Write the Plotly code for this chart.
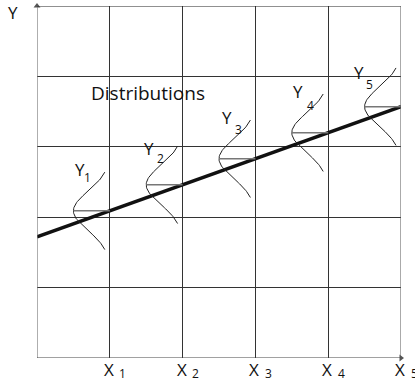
import numpy as np
import plotly.graph_objects as go

# ---- data ----
x_positions = [1, 2, 3, 4, 5]
x_labels = ["X", "X", "X", "X", "X"]
x_subs = ["1", "2", "3", "4", "5"]
dist_means = [2.09, 2.46, 2.83, 3.20, 3.57]
dist_labels = ["Y", "Y", "Y", "Y", "Y"]
dist_subs = ["1", "2", "3", "4", "5"]
reg_x = [0, 5]
reg_y = [1.72, 3.57]
dist_sigma = 0.276
dist_height = 0.5
dist_halfspan = 0.55
title_text = "Distributions"
y_axis_label = "Y"

# label positions (data coords)
ylab_pos = [(0.59, 2.68), (1.54, 2.97), (2.61, 3.42), (3.59, 3.79), (4.42, 4.05)]
ysub_pos = [(0.69, 2.56), (1.70, 2.83), (2.77, 3.25), (3.75, 3.59), (4.57, 3.88)]

FONT = "Open Sans"
fig = go.Figure()

# regression line
fig.add_trace(go.Scatter(x=reg_x, y=reg_y, mode="lines",
                         line=dict(color="#111", width=3.5), hoverinfo="skip"))

for xi, mu in zip(x_positions, dist_means):
    yy = np.linspace(mu - dist_halfspan, mu + dist_halfspan, 80)
    xx = xi - dist_height * np.exp(-((yy - mu) ** 2) / (2 * dist_sigma ** 2))
    fig.add_trace(go.Scatter(x=xx, y=yy, mode="lines",
                             line=dict(color="#222", width=1), hoverinfo="skip"))
    fig.add_trace(go.Scatter(x=[xi - dist_height, xi], y=[mu, mu], mode="lines",
                             line=dict(color="#777", width=1.5), hoverinfo="skip"))

# arrowheads
fig.add_trace(go.Scatter(x=[0], y=[5], mode="markers",
                         marker=dict(symbol="triangle-up", size=6, color="#555"),
                         hoverinfo="skip", cliponaxis=False))
fig.add_trace(go.Scatter(x=[5], y=[0], mode="markers",
                         marker=dict(symbol="triangle-right", size=6, color="#555"),
                         hoverinfo="skip", cliponaxis=False))

annotations = []
for (px, py), t in zip(ylab_pos, dist_labels):
    annotations.append(dict(x=px, y=py, text=t, showarrow=False,
                            font=dict(family=FONT, size=17, color="#111")))
for (px, py), t in zip(ysub_pos, dist_subs):
    annotations.append(dict(x=px, y=py, text=t, showarrow=False,
                            font=dict(family=FONT, size=12, color="#111")))
for xi, t, s in zip(x_positions, x_labels, x_subs):
    annotations.append(dict(x=xi, y=0, text=t, showarrow=False, yshift=-11,
                            xshift=-1, font=dict(family=FONT, size=17, color="#111")))
    annotations.append(dict(x=xi, y=0, text=s, showarrow=False, yshift=-15,
                            xshift=13, font=dict(family=FONT, size=12, color="#111")))
annotations.append(dict(x=0.72, y=3.76, text=title_text, showarrow=False,
                        xanchor="left", font=dict(family=FONT, size=19, color="#111")))
annotations.append(dict(x=0, y=5, text=y_axis_label, showarrow=False,
                        xshift=-24, yshift=-6,
                        font=dict(family=FONT, size=17, color="#111")))

# outer frame
shapes = [
    dict(type="line", x0=0, x1=0, y0=0, y1=5, line=dict(color="#777", width=1.2)),
    dict(type="line", x0=0, x1=5, y0=0, y1=0, line=dict(color="#444", width=1.2)),
    dict(type="line", x0=0, x1=5, y0=5, y1=5, line=dict(color="#222", width=1)),
    dict(type="line", x0=5, x1=5, y0=0, y1=5, line=dict(color="#555", width=1)),
]

fig.update_layout(
    width=415, height=384,
    margin=dict(l=37, r=14, t=6, b=26, autoexpand=False),
    paper_bgcolor="white", plot_bgcolor="white",
    showlegend=False,
    annotations=annotations,
    shapes=shapes,
    xaxis=dict(range=[0, 5], dtick=1, tick0=0, showgrid=True, gridcolor="#333",
               gridwidth=1, zeroline=False, showticklabels=False, ticks="",
               showline=False, fixedrange=True),
    yaxis=dict(range=[0, 5], dtick=1, tick0=0, showgrid=True, gridcolor="#333",
               gridwidth=1, zeroline=False, showticklabels=False, ticks="",
               showline=False, fixedrange=True),
)

fig.write_html("out.html", config={"displayModeBar": False},
               post_script="document.body.style.margin='0';document.body.style.overflow='hidden';")
